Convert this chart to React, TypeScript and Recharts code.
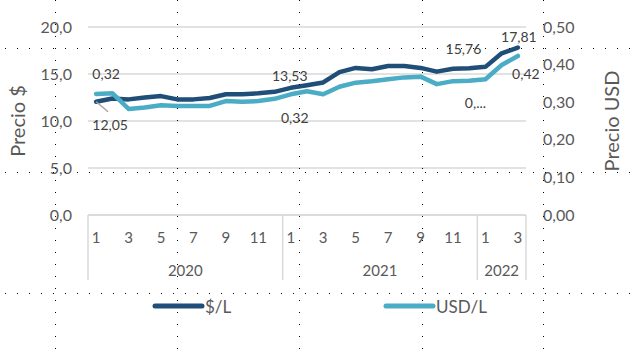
import { CartesianGrid, LabelList, Legend, Line, LineChart, XAxis, YAxis } from "recharts";

const MONTHS = [1, 2, 3, 4, 5, 6, 7, 8, 9, 10, 11, 12, 1, 2, 3, 4, 5, 6, 7, 8, 9, 10, 11, 12, 1, 2, 3];
const YEARS = [
  "2020", "2020", "2020", "2020", "2020", "2020", "2020", "2020", "2020", "2020", "2020", "2020",
  "2021", "2021", "2021", "2021", "2021", "2021", "2021", "2021", "2021", "2021", "2021", "2021",
  "2022", "2022", "2022",
];
const PESOS = [
  12.05, 12.4, 12.3, 12.5, 12.65, 12.3, 12.3, 12.45, 12.85, 12.85, 12.95, 13.1,
  13.53, 13.8, 14.1, 15.2, 15.65, 15.5, 15.85, 15.85, 15.65, 15.25, 15.55, 15.6,
  15.76, 17.2, 17.81,
];
const USD = [
  0.322, 0.324, 0.282, 0.286, 0.292, 0.29, 0.29, 0.29, 0.303, 0.301, 0.303, 0.309,
  0.321, 0.329, 0.321, 0.341, 0.352, 0.356, 0.361, 0.366, 0.368, 0.348, 0.356, 0.357,
  0.361, 0.399, 0.423,
];
const LEFT_TICKS = [0, 5, 10, 15, 20];
const RIGHT_TICKS = [0, 0.1, 0.2, 0.3, 0.4, 0.5];

const data = MONTHS.map((m, i) => ({ month: m, year: YEARS[i], pesos: PESOS[i], usd: USD[i] }));

const W = 631;
const H = 356;
const LEFT_W = 88;
const RIGHT_W = 105;
const PLOT_W = W - LEFT_W - RIGHT_W;
const BAND = PLOT_W / MONTHS.length;

const DARK = "#1F4E79";
const LIGHT = "#4BACC6";
const TEXT = "#595959";
const GRID = "#D9D9D9";
const FONT = "Lato, 'Liberation Sans', sans-serif";

// which points get a data label, and where it sits relative to the point
const PESO_LABELS: Record<number, { dx: number; dy: number; text?: string }> = {
  0: { dx: 14, dy: 23 },
  12: { dx: -1, dy: -12 },
  24: { dx: -22, dy: -18 },
  26: { dx: 1, dy: -11 },
};
const USD_LABELS: Record<number, { dx: number; dy: number; text?: string }> = {
  0: { dx: 10, dy: -20 },
  12: { dx: 4, dy: 23 },
  24: { dx: -10, dy: 23, text: "0,..." },
  26: { dx: 8, dy: 18 },
};

const comma = (v: number, d: number) => v.toFixed(d).replace(".", ",");

function pointLabel(conf: typeof PESO_LABELS, digits: number, leader = false) {
  return (props: any) => {
    const { x, y, value, index } = props;
    const c = conf[index];
    if (!c) return null;
    return (
      <g key={`lbl-${digits}-${index}`}>
        {leader && index === 0 && (
          <line x1={x} y1={y} x2={x + 12} y2={y + 10} stroke="#A6A6A6" strokeWidth={1.5} />
        )}
        <text
          x={x + c.dx}
          y={y + c.dy}
          textAnchor="middle"
          dominantBaseline="central"
          fill="#404040"
          fontSize={14}
          fontFamily={FONT}
        >
          {c.text ?? comma(value, digits)}
        </text>
      </g>
    );
  };
}

function MonthTick(props: any) {
  const { x, y, index } = props;
  const m = MONTHS[index];
  const yr = YEARS[index];
  const first = index === 0 || YEARS[index - 1] !== yr;
  const last = index === MONTHS.length - 1;
  const count = YEARS.filter((v) => v === yr).length;
  const left = x - BAND / 2;
  return (
    <g>
      {m % 2 === 1 && (
        <text x={x} y={y + 22} textAnchor="middle" dominantBaseline="central" fill={TEXT} fontSize={15} fontFamily={FONT}>
          {m}
        </text>
      )}
      {first && <line x1={left} x2={left} y1={y} y2={y + 65} stroke={GRID} strokeWidth={1.5} />}
      {first && (
        <text x={left + (count * BAND) / 2} y={y + 55} textAnchor="middle" dominantBaseline="central" fill={TEXT} fontSize={15} fontFamily={FONT}>
          {yr}
        </text>
      )}
      {last && <line x1={x + BAND / 2} x2={x + BAND / 2} y1={y} y2={y + 65} stroke={GRID} strokeWidth={1.5} />}
    </g>
  );
}

const LEGEND_X = [155, 386];

function LegendContent(props: any) {
  const items = props.payload || [];
  return (
    <svg width={W} height={20} style={{ display: "block" }}>
      {items.map((it: any, i: number) => (
        <g key={it.value}>
          <line x1={LEGEND_X[i]} x2={LEGEND_X[i] + 47} y1={10} y2={10} stroke={it.color} strokeWidth={5} strokeLinecap="round" />
          <text x={LEGEND_X[i] + 50} y={10} dominantBaseline="central" fill={TEXT} fontSize={17} fontFamily={FONT}>
            {it.value}
          </text>
        </g>
      ))}
    </svg>
  );
}

// sheet page-break dots that show through the picture
const DOT_ROWS = [48, 172, 293];
const DOT_COLS = [55, 177, 299, 422, 543];

export default function App() {
  return (
    <div style={{ position: "absolute", left: 0, top: 0, width: W, height: H, background: "#fff", fontFamily: FONT }}>
      <LineChart width={W} height={H} data={data} margin={{ top: 27, right: 0, bottom: 71, left: 0 }}>
        <CartesianGrid yAxisId="left" vertical={false} stroke={GRID} strokeWidth={1.5} />
        <XAxis
          dataKey="month"
          interval={0}
          height={70}
          tickLine={false}
          tickSize={0}
          tickMargin={0}
          axisLine={{ stroke: GRID, strokeWidth: 1.5 }}
          padding={{ left: BAND / 2, right: BAND / 2 }}
          tick={(p: any) => <MonthTick {...p} />}
        />
        <YAxis
          yAxisId="left"
          domain={[0, 20]}
          ticks={LEFT_TICKS}
          width={LEFT_W}
          axisLine={false}
          tickLine={false}
          tickSize={0}
          tickMargin={16}
          tick={{ fill: TEXT, fontSize: 16, fontFamily: FONT }}
          tickFormatter={(v) => comma(v, 1)}
          label={{ value: "Precio $", angle: -90, position: "center", dx: -26, fill: TEXT, fontSize: 20, fontFamily: FONT }}
        />
        <YAxis
          yAxisId="right"
          orientation="right"
          domain={[0, 0.5]}
          ticks={RIGHT_TICKS}
          width={RIGHT_W}
          axisLine={false}
          tickLine={false}
          tickSize={0}
          tickMargin={17}
          tick={{ fill: TEXT, fontSize: 16, fontFamily: FONT }}
          tickFormatter={(v) => comma(v, 2)}
          label={{ value: "Precio USD", angle: -90, position: "center", dx: 33, fill: TEXT, fontSize: 20, fontFamily: FONT }}
        />
        <Legend
          verticalAlign="middle"
          align="center"
          layout="horizontal"
          wrapperStyle={{ top: 296, left: 0, width: W }}
          content={(p: any) => <LegendContent {...p} />}
        />
        <Line
          yAxisId="left"
          dataKey="pesos"
          name="$/L"
          stroke={DARK}
          strokeWidth={4.5}
          strokeLinejoin="round"
          strokeLinecap="round"
          dot={false}
          isAnimationActive={false}
        >
          <LabelList dataKey="pesos" content={pointLabel(PESO_LABELS, 2, true)} />
        </Line>
        <Line
          yAxisId="right"
          dataKey="usd"
          name="USD/L"
          stroke={LIGHT}
          strokeWidth={4.5}
          strokeLinejoin="round"
          strokeLinecap="round"
          dot={false}
          isAnimationActive={false}
        >
          <LabelList dataKey="usd" content={pointLabel(USD_LABELS, 2)} />
        </Line>
      </LineChart>
      <svg width={W} height={H} style={{ position: "absolute", left: 0, top: 0, pointerEvents: "none" }}>
        {DOT_ROWS.map((y) => (
          <line key={`r${y}`} x1={5} x2={W} y1={y + 0.5} y2={y + 0.5} stroke="#000" strokeWidth={1} strokeDasharray="1 11" />
        ))}
        {DOT_COLS.map((x) => (
          <line key={`c${x}`} x1={x + 0.5} x2={x + 0.5} y1={0} y2={H} stroke="#000" strokeWidth={1} strokeDasharray="1 11" />
        ))}
      </svg>
    </div>
  );
}
